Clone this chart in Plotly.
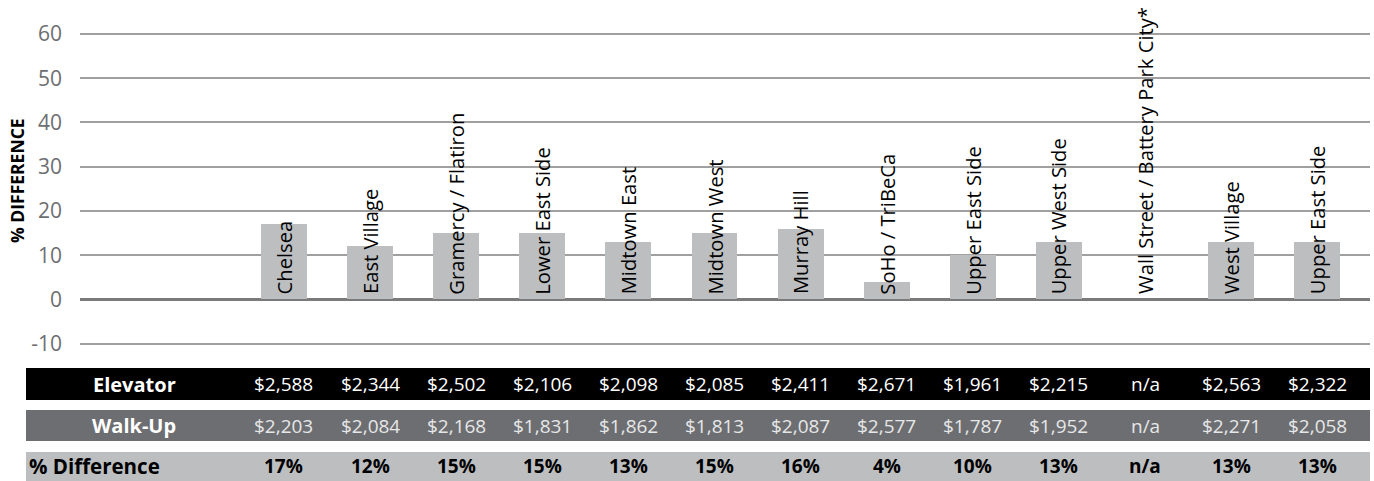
import plotly.graph_objects as go

# Neighbourhood names (in chart order) and rent figures
neighbourhoods = [
    "Chelsea", "East Village", "Gramercy / Flatiron", "Lower East Side",
    "Midtown East", "Midtown West", "Murray Hill", "SoHo / TriBeCa",
    "Upper East Side", "Upper West Side", "Wall Street / Battery Park City*",
    "West Village", "Upper East Side",
]
elevator_rent = [2588, 2344, 2502, 2106, 2098, 2085, 2411, 2671, 1961, 2215, None, 2563, 2322]
walkup_rent = [2203, 2084, 2168, 1831, 1862, 1813, 2087, 2577, 1787, 1952, None, 2271, 2058]
pct_difference = [17, 12, 15, 15, 13, 15, 16, 4, 10, 13, None, 13, 13]

y_ticks = [-10, 0, 10, 20, 30, 40, 50, 60]

FONT = "Open Sans"
W, H = 1374, 481
L, R, T, B = 80, 1370, 0, 350  # plot area in pixels


def px_x(p):
    return (p - L) / (R - L)


def px_y(p):
    return (B - p) / (B - T)


idx = list(range(len(neighbourhoods)))

fig = go.Figure()
fig.add_trace(go.Bar(
    x=idx, y=pct_difference, width=0.534,
    marker=dict(color="#bcbec0", line=dict(width=0)),
    hoverinfo="skip",
))

annotations = []
# vertical neighbourhood labels sitting on the baseline
for i, name in zip(idx, neighbourhoods):
    annotations.append(dict(
        x=i, y=0, xref="x", yref="y", text=name, textangle=-90,
        xanchor="center", yanchor="bottom", yshift=3, showarrow=False,
        font=dict(family=FONT, size=20.2, color="#000000"),
    ))

# y-axis title
annotations.append(dict(
    x=px_x(17), y=px_y(181), xref="paper", yref="paper", text="<b>% DIFFERENCE</b>",
    textangle=-90, xanchor="center", yanchor="middle", showarrow=False,
    font=dict(family=FONT, size=17.5, color="#000000"),
))

# table underneath the chart
rows = [
    ("Elevator", 368, 400, "#000000", "#ffffff", "#ffffff", 19),
    ("Walk-Up", 410, 441, "#6d6e71", "#ffffff", "#e6e7e8", 19),
    ("% Difference", 452, 481, "#bcbec0", "#000000", "#000000", 19),
]
shapes = []
for label, top, bottom, fill, label_col, val_col, vsize in rows:
    shapes.append(dict(
        type="rect", xref="paper", yref="paper",
        x0=px_x(26), x1=px_x(1370), y0=px_y(bottom), y1=px_y(top),
        fillcolor=fill, line=dict(width=0), layer="below",
    ))
    yc = px_y((top + bottom) / 2)
    if label == "% Difference":
        annotations.append(dict(
            x=px_x(27), y=yc, xref="paper", yref="paper", text=f"<b>{label}</b>",
            xanchor="left", yanchor="middle", showarrow=False,
            font=dict(family=FONT, size=20.5, color=label_col),
        ))
    else:
        annotations.append(dict(
            x=px_x(178), y=yc, xref="paper", yref="paper", text=f"<b>{label}</b>",
            xanchor="right", yanchor="middle", showarrow=False,
            font=dict(family=FONT, size=20, color=label_col),
        ))

for i in idx:
    e, w, d = elevator_rent[i], walkup_rent[i], pct_difference[i]
    vals = [
        f"${e:,}" if e is not None else "n/a",
        f"${w:,}" if w is not None else "n/a",
        f"<b>{d}%</b>" if d is not None else "<b>n/a</b>",
    ]
    for (label, top, bottom, fill, label_col, val_col, vsize), txt in zip(rows, vals):
        annotations.append(dict(
            x=i, y=px_y((top + bottom) / 2), xref="x", yref="paper", text=txt,
            xanchor="center", yanchor="middle", showarrow=False,
            font=dict(family=FONT, size=vsize, color=val_col),
        ))

fig.update_layout(
    width=W, height=H,
    margin=dict(l=L, r=W - R, t=T, b=H - B, pad=0),
    paper_bgcolor="#ffffff", plot_bgcolor="#ffffff",
    showlegend=False,
    bargap=0,
    xaxis=dict(
        range=[-2.369, 12.613], showgrid=False, zeroline=False,
        showticklabels=False, ticks="", fixedrange=True,
    ),
    yaxis=dict(
        range=[-11.43, 67.69], tickvals=y_ticks, ticktext=[str(v) for v in y_ticks],
        showgrid=True, gridcolor="#a0a0a0", gridwidth=1.8,
        zeroline=True, zerolinecolor="#7a7a7a", zerolinewidth=3,
        ticks="", ticklabelstandoff=17,
        tickfont=dict(family=FONT, size=21, color="#6d6e71"),
        showline=False, fixedrange=True,
    ),
    annotations=annotations,
    shapes=shapes,
)

fig.write_html("out.html")
